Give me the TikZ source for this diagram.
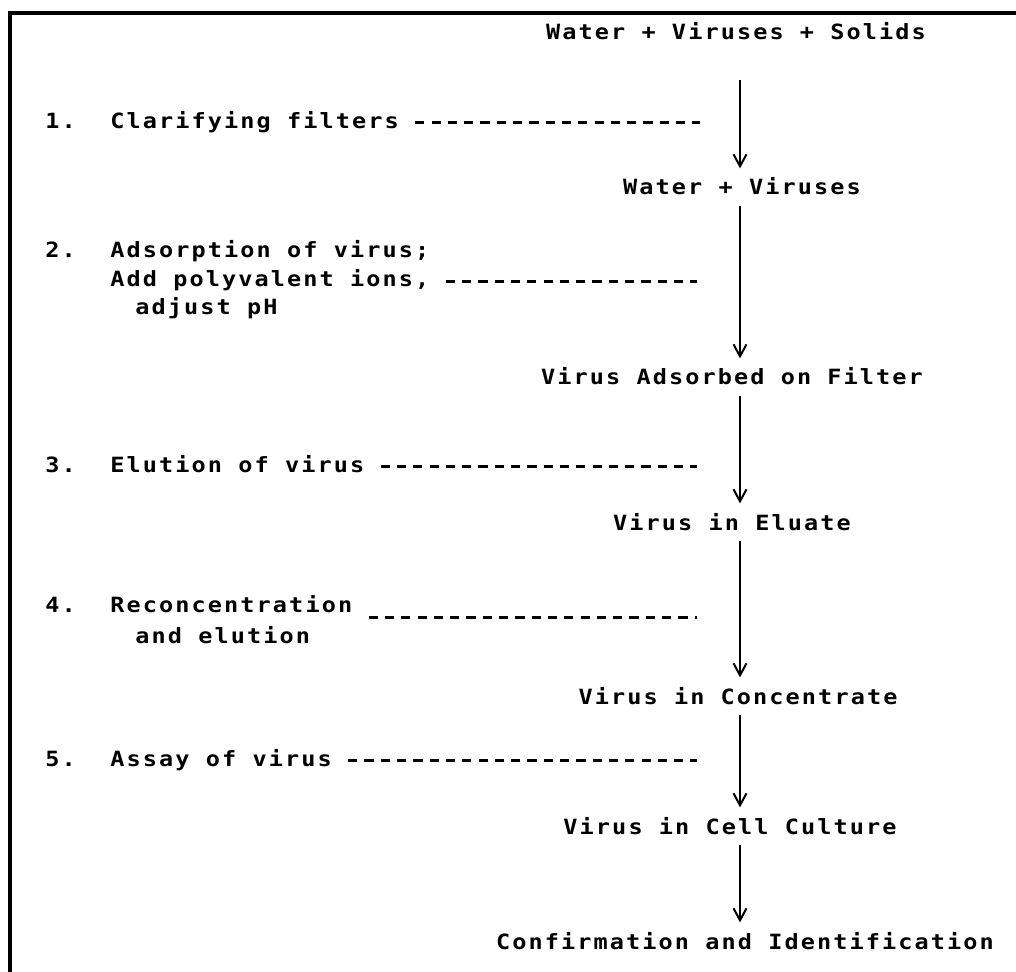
\documentclass[tikz,border=0pt]{standalone}
\usepackage{fontspec}
\usetikzlibrary{arrows.meta}
\newfontfamily\typer[FakeStretch=1.12,LetterSpace=10]{DejaVu Sans Mono}

\begin{document}
\begin{tikzpicture}[x=0.5pt,y=-0.5pt,
  every node/.style={font=\typer\bfseries\fontsize{10.5}{12}\selectfont, inner sep=0pt},
  stage/.style={anchor=base, text height=6.6pt, text depth=0pt},
  note/.style={anchor=base west},
  flow/.style={-{Straight Barb[length=6pt,width=6.5pt]}, line width=1pt, shorten <=5.5pt, shorten >=6.5pt},
  leader/.style={line width=1.5pt, dash pattern=on 4.6pt off 3.55pt, shorten <=8pt}]
\useasboundingbox (0,0) rectangle (1016,972);
\draw[line width=1.6pt] (1016,13) -- (10,13) -- (10,972);

% flow of the sample
\coordinate (axis) at (740,0);
\node[stage] (solids) at (736,40) {Water + Viruses + Solids};
\node[stage] (viruses) at (742,195) {Water + Viruses};
\node[stage] (adsorbed) at (732,385) {Virus Adsorbed on Filter};
\node[stage] (eluate) at (732,530) {Virus in Eluate};
\node[stage] (concentrate) at (738,704) {Virus in Concentrate};
\node[stage] (culture) at (730,834) {Virus in Cell Culture};
\node[stage] (confirm) at (745,949) {Confirmation and Identification};

\draw[flow, shorten <=20pt] (solids.south -| axis) -- (viruses.north -| axis);
\foreach \a/\b in {viruses/adsorbed, adsorbed/eluate, eluate/concentrate, concentrate/culture, culture/confirm}
\draw[flow] (\a.south -| axis) -- (\b.north -| axis);

% steps
\node[note] (n1) at (45,129) {1.};
\node[note] (s1) at (110,129) {Clarifying filters};
\node[note] (n2) at (45,258) {2.};
\node[note] (s2a) at (110,258) {Adsorption of virus;};
\node[note] (s2) at (110,287) {Add polyvalent ions,};
\node[note] (s2b) at (135,315) {adjust pH};
\node[note] (n3) at (45,473) {3.};
\node[note] (s3) at (110,473) {Elution of virus};
\node[note] (n4) at (45,612) {4.};
\node[note] (s4) at (110,612) {Reconcentration};
\node[note] (s4b) at (135,643) {and elution};
\node[note] (n5) at (45,766) {5.};
\node[note] (s5) at (110,766) {Assay of virus};

\coordinate (e1) at (700,123);
\coordinate (e2) at (697,282);
\coordinate (e3) at (697,467);
\coordinate (e4) at (697,617);
\coordinate (e5) at (697,760);
\foreach \s/\e in {s1/e1, s2/e2, s3/e3, s4/e4, s5/e5}
\draw[leader] (\s.east |- \e) -- (\e);
\end{tikzpicture}
\end{document}
